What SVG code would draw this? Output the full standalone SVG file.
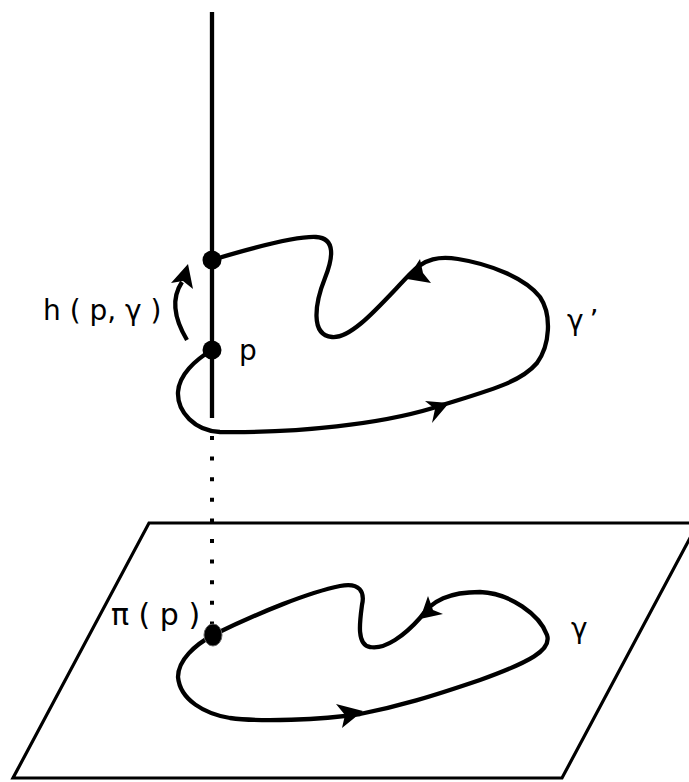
<svg xmlns="http://www.w3.org/2000/svg" width="689" height="782" viewBox="0 0 689 782">
<style>
.ln{fill:none;stroke:#000;stroke-width:4.3;stroke-linecap:butt;stroke-linejoin:round}
.ah{fill:#000;stroke:none}
.lb{font-family:"DejaVu Sans","Liberation Sans",sans-serif;font-size:28px;fill:#000}
</style>
<rect width="689" height="782" fill="#fff"/>
<g id="plane">
<polygon points="149,523 698,523 562,778 13,778" fill="none" stroke="#000" stroke-width="3.2" stroke-linejoin="miter"/>
</g>
<g id="fiber">
<line x1="212" y1="12" x2="212" y2="418" class="ln"/>
<line x1="212" y1="436" x2="212" y2="628" stroke="#000" stroke-width="4" stroke-dasharray="4 16.6"/>
</g>
<g id="connectors">
<path id="gamma-prime" class="ln" d="M212,260 C255,247 295,236 316,237 C336,238 333,258 325,278 C315,303 310,335 332,337 C352,339 380,305 410,274 C425,258 440,256 458,259 C490,264 525,278 540,297 C552,315 550,345 537,363 C520,383 490,390 433,408 C380,424 300,433 220,432 C195,431 177,412 178,392 C179,375 195,360 212,350"/>
<path id="gamma" class="ln" d="M213,635 C260,612 310,592 340,586 C360,582 365,592 362,605 C360,620 356,645 370,647 C385,650 405,635 420,618 C432,600 450,592 480,592 C510,593 540,615 547,635 C552,650 530,662 480,680 C430,697 400,706 360,714 C320,720 260,722 230,718 C205,714 180,700 178,677 C178,660 195,645 213,635"/>
<path id="h-arrow" class="ln" d="M187,340 C175,320 170,300 182,282"/>
<path class="ah" d="M188,264 L193,289 L183,281 L171,283 Z"/>
<path class="ah" d="M407,279 L420,259 L423,273 L431,283 Z"/>
<path class="ah" d="M449,403 L425,401 L435,409 L432,423 Z"/>
<path class="ah" d="M420,619 L428,596 L433,610 L443,614 Z"/>
<path class="ah" d="M363,711 L336,704 L345,715 L342,728 Z"/>
</g>
<g id="dot-top"><circle cx="212" cy="260" r="9.5" fill="#000"/></g>
<g id="dot-p"><circle cx="212" cy="350" r="9.5" fill="#000"/></g>
<g id="dot-pi"><ellipse cx="213" cy="635" rx="9" ry="11" fill="#000" stroke="#666" stroke-width="1"/></g>
<g id="labels">
<text class="lb" x="43" y="320">h ( p, γ )</text>
<text class="lb" x="239" y="360">p</text>
<text class="lb" x="567" y="330">γ<tspan dx="6">’</tspan></text>
<text class="lb" x="571" y="638">γ</text>
<text class="lb" x="111" y="625" style="font-size:30px">π ( p )</text>
</g>
</svg>
